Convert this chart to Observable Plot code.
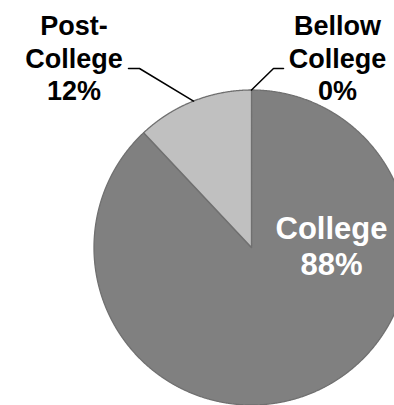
<!DOCTYPE html>
<html><head><meta charset="utf-8">
<script src="https://cdn.jsdelivr.net/npm/d3@7"></script>
<script src="https://cdn.jsdelivr.net/npm/@observablehq/plot@0.6"></script>
<style>html,body{margin:0;padding:0;background:#fff;overflow:hidden;} #chart svg{display:block}</style>
</head><body><div id="chart"></div>
<script>
// ---- data ----
const categories = ["Bellow College", "College", "Post-College"];
const values = [0, 88, 12];
const nameLabels = ["Bellow\nCollege", "College", "Post-\nCollege"];
const percentLabels = ["0%", "88%", "12%"];
const colors = ["#a0a0a0", "#808080", "#c0c0c0"];

// ---- layout (pixels) ----
const W = 394, H = 405, CX = 251, CY = 247, R = 157.5;
const toX = px => (px - CX) / R;
const toY = py => (CY - py) / R;
// label anchor (block centre) and leader elbow points, per category
const layout = {
  "Bellow College": {inside: false, lx: 337, ly: 57, leader: [[283, 68], [273, 68]]},
  "College": {inside: true, lx: 331, ly: 245},
  "Post-College": {inside: false, lx: 73.5, ly: 57, leader: [[128, 68], [139, 68]]}
};

const arcs = d3.pie().sort(null).value(d => d)(values);

// slice outlines (polygon sampled along each arc)
const slicePts = [];
arcs.forEach((a, i) => {
  const span = a.endAngle - a.startAngle;
  if (span <= 0) return;
  const n = Math.max(2, Math.ceil(span / (Math.PI / 720)));
  slicePts.push({cat: categories[i], x: 0, y: 0});
  for (let k = 0; k <= n; k++) {
    const t = a.startAngle + span * k / n;
    slicePts.push({cat: categories[i], x: Math.sin(t), y: Math.cos(t)});
  }
  slicePts.push({cat: categories[i], x: 0, y: 0});
});

// labels and leaders
const outside = [], inside = [], leaderPts = [];
arcs.forEach((a, i) => {
  const c = categories[i], L = layout[c];
  const text = nameLabels[i] + "\n" + percentLabels[i];
  if (L.inside) inside.push({x: toX(L.lx), y: toY(L.ly), text});
  else {
    outside.push({x: toX(L.lx), y: toY(L.ly), text});
    L.leader.forEach(([px, py]) => leaderPts.push({cat: c, x: toX(px), y: toY(py)}));
    const mid = (a.startAngle + a.endAngle) / 2;
    leaderPts.push({cat: c, x: Math.sin(mid), y: Math.cos(mid)});
  }
});

const chart = Plot.plot({
  width: W, height: H, margin: 0,
  style: {fontFamily: "'Liberation Sans', Arial, sans-serif", background: "#fff", overflow: "hidden"},
  x: {domain: [toX(0), toX(W)], axis: null},
  y: {domain: [toY(H), toY(0)], axis: null},
  color: {domain: categories, range: colors},
  marks: [
    Plot.line(slicePts, {x: "x", y: "y", z: "cat", fill: "cat", stroke: "#707070", strokeWidth: 1.3, strokeLinejoin: "round"}),
    Plot.line(leaderPts, {x: "x", y: "y", z: "cat", stroke: "#000", strokeWidth: 1.5}),
    Plot.text(outside, {x: "x", y: "y", text: "text", fill: "#000", fontSize: 27, fontWeight: "bold", lineHeight: 1.2}),
    Plot.text(inside, {x: "x", y: "y", text: "text", fill: "#fff", fontSize: 31, fontWeight: "bold", lineHeight: 1.16})
  ]
});
document.getElementById("chart").appendChild(chart);
</script>
</body></html>
